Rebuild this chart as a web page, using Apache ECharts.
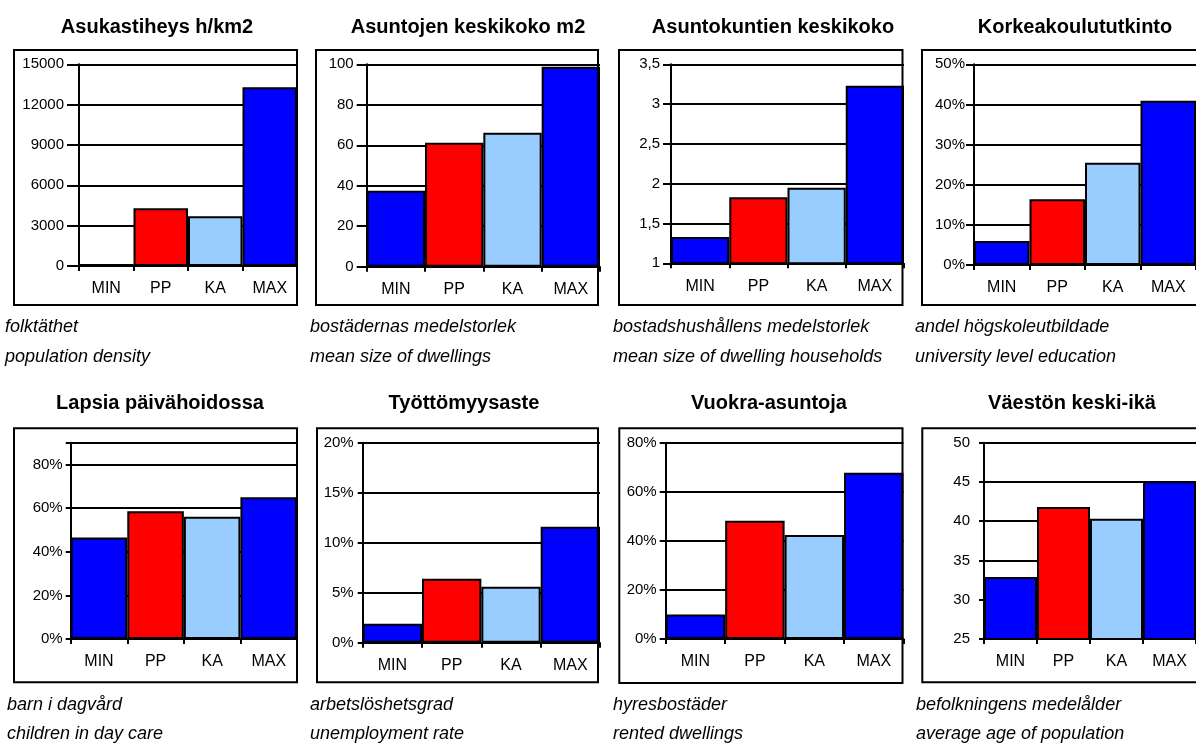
<!DOCTYPE html>
<html>
<head>
<meta charset="utf-8">
<script src="https://cdn.jsdelivr.net/npm/echarts@6/dist/echarts.min.js"></script>
<style>
html,body{margin:0;padding:0;background:#fff;}
#chart{width:1196px;height:747px;}
</style>
</head>
<body>
<div id="chart"></div>
<script>
// ---- data ----
const categories = ['MIN', 'PP', 'KA', 'MAX'];
const titles = ['Asukastiheys h/km2', 'Asuntojen keskikoko m2', 'Asuntokuntien keskikoko', 'Korkeakoulututkinto',
                'Lapsia päivähoidossa', 'Työttömyysaste', 'Vuokra-asuntoja', 'Väestön keski-ikä'];
const captionsSv = ['folktäthet', 'bostädernas medelstorlek', 'bostadshushållens medelstorlek', 'andel högskoleutbildade',
                    'barn i dagvård', 'arbetslöshetsgrad', 'hyresbostäder', 'befolkningens medelålder'];
const captionsEn = ['population density', 'mean size of dwellings', 'mean size of dwelling households', 'university level education',
                    'children in day care', 'unemployment rate', 'rented dwellings', 'average age of population'];
const densityValues = [150, 4300, 3700, 13300];
const dwellingSizeValues = [37.5, 61.3, 66.2, 98.8];
const householdSizeValues = [1.33, 1.83, 1.95, 3.23];
const universityValues = [6.0, 16.4, 25.5, 40.9];      // %
const dayCareValues = [46.5, 58.6, 56.0, 65.0];        // %
const unemploymentValues = [1.9, 6.4, 5.6, 11.6];      // %
const rentedValues = [10.0, 48.2, 42.4, 67.8];         // %
const ageValues = [32.9, 41.8, 40.3, 45.1];
const yMins = [0, 0, 1, 0, 0, 0, 0, 25];
const yMaxs = [15000, 100, 3.5, 50, 90, 20, 80, 50];
const yIntervals = [3000, 20, 0.5, 10, 20, 5, 20, 5];
const yUnits = ['', '', '', '%', '%', '%', '%', ''];

const seriesValues = [densityValues, dwellingSizeValues, householdSizeValues, universityValues,
                      dayCareValues, unemploymentValues, rentedValues, ageValues];

// ---- layout & style ----
const FONT = '"Liberation Sans", Arial, sans-serif';
const barColors = ['#0000FF', '#FF0000', '#99CCFF', '#0000FF'];
// plot areas [left, top, right, bottom]
const plots = [
  [79, 64.3, 297, 266], [366.7, 64.3, 600, 266.7], [671, 64.3, 904, 263.3], [974, 64.3, 1206, 265],
  [70.7, 442.7, 297, 639], [362.7, 442.7, 600, 642.7], [665.7, 442.7, 903.5, 639], [984, 442.7, 1205, 639]
];
// boxes [x1, y1, x2, y2]
const boxes = [
  [14, 50, 297, 305], [316, 50, 598, 305], [619, 50, 902.5, 305], [922, 50, 1215, 305],
  [14, 428.3, 297, 682.3], [317, 428.3, 598, 682.3], [619.3, 428.3, 902.5, 683], [922.3, 428.3, 1215, 682.3]
];
const titlePos = [[157, 27], [468, 27], [773, 27], [1075, 27], [160, 403], [464, 403], [769, 403], [1072, 403]];
const captionX = [5, 310, 613, 915, 7, 310, 613, 916];
const captionY = [[327, 357], [327, 357], [327, 357], [327, 357], [705, 734], [705, 734], [705, 734], [705, 734]];
const yTickLen = [12, 10, 8, 8, 5, 5, 6, 5];
const yLabelMargin = [15, 13, 11, 9, 8, 9, 9, 14];

function fmt(i) {
  return function (v) {
    if (i === 4 && Math.abs(v % 20) > 1e-9) return '';
    let s = String(Math.round(v * 1000) / 1000).replace('.', ',');
    return s + yUnits[i];
  };
}

const grid = [], xAxis = [], yAxis = [], series = [], graphic = [];
for (let i = 0; i < 8; i++) {
  const p = plots[i];
  grid.push({left: p[0], top: p[1], width: p[2] - p[0], height: p[3] - p[1], containLabel: false});
  xAxis.push({
    type: 'category', gridIndex: i, data: categories,
    axisLine: {show: true, lineStyle: {color: '#000', width: 2}},
    axisTick: {show: true, length: 5, interval: 0, lineStyle: {color: '#000', width: 2}},
    axisLabel: {color: '#000', fontSize: 16, fontFamily: FONT, margin: 15, interval: 0},
    splitLine: {show: false}
  });
  yAxis.push({
    type: 'value', gridIndex: i, min: yMins[i], max: yMaxs[i], interval: yIntervals[i],
    axisLine: {show: true, lineStyle: {color: '#000', width: 2}},
    axisTick: {show: true, length: yTickLen[i], lineStyle: {color: '#000', width: 2}},
    axisLabel: {color: '#000', fontSize: 15, fontFamily: FONT, margin: yLabelMargin[i], formatter: fmt(i)},
    splitLine: {show: true, lineStyle: {color: '#000', width: 2}}
  });
  series.push({
    type: 'bar', xAxisIndex: i, yAxisIndex: i, barWidth: '100%', barGap: '0%',
    data: seriesValues[i].map((v, j) => ({value: v, itemStyle: {color: barColors[j]}})),
    itemStyle: {borderColor: '#000', borderWidth: 2},
    emphasis: {disabled: true}, z: 3
  });
  const b = boxes[i];
  graphic.push({
    type: 'rect', z: 100, silent: true,
    shape: {x: b[0], y: b[1], width: b[2] - b[0], height: b[3] - b[1]},
    style: {fill: 'none', stroke: '#000', lineWidth: 2}
  });
  graphic.push({
    type: 'text', z: 100, silent: true, x: titlePos[i][0], y: titlePos[i][1],
    style: {text: titles[i], font: 'bold 20px ' + FONT, fill: '#000', align: 'center', verticalAlign: 'middle'}
  });
  graphic.push({
    type: 'text', z: 100, silent: true, x: captionX[i], y: captionY[i][0],
    style: {text: captionsSv[i], font: 'italic 18px ' + FONT, fill: '#000', align: 'left', verticalAlign: 'middle'}
  });
  graphic.push({
    type: 'text', z: 100, silent: true, x: captionX[i], y: captionY[i][1],
    style: {text: captionsEn[i], font: 'italic 18px ' + FONT, fill: '#000', align: 'left', verticalAlign: 'middle'}
  });
}

const chart = echarts.init(document.getElementById('chart'), null, {renderer: 'canvas'});
chart.setOption({
  animation: false,
  backgroundColor: '#fff',
  grid, xAxis, yAxis, series, graphic
});
</script>
</body>
</html>
